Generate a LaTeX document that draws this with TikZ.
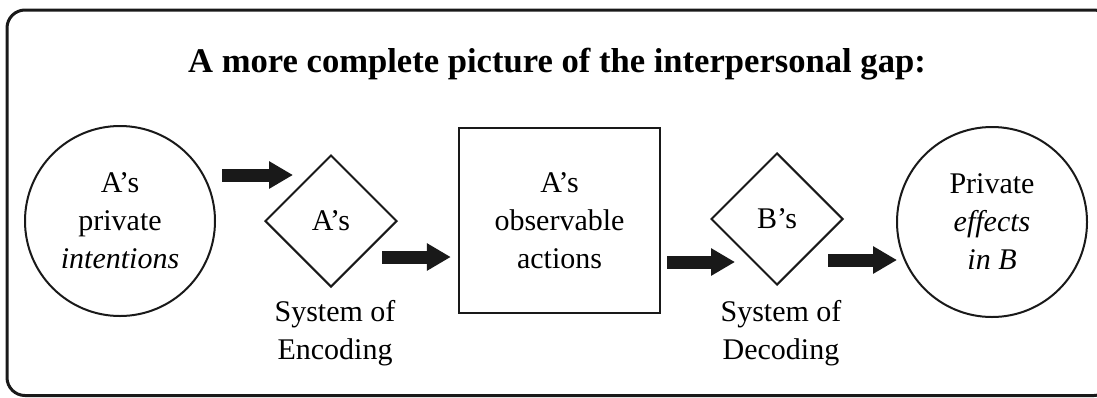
\documentclass[tikz,border=0pt]{standalone}
\usepackage{fontspec}
\setmainfont{Liberation Serif}
\usetikzlibrary{shapes.geometric,arrows.meta,calc}
\begin{document}
\begin{tikzpicture}[x=0.5pt,y=-0.5pt,
  body/.style={font=\fontsize{15}{19}\selectfont, align=center, text=black},
  roundbox/.style={body, circle, draw=black!90, line width=1pt, minimum size=95pt, inner sep=0pt},
  decidebox/.style={body, diamond, draw=black!90, line width=1pt, minimum width=66pt, minimum height=66pt, inner sep=0pt, shape aspect=1},
  actbox/.style={body, rectangle, draw=black!90, line width=1.2pt, minimum width=100.5pt, minimum height=92.5pt, inner sep=0pt},
  blockarrow/.style={draw=black!90, line width=6.5pt, -{Triangle[length=12pt,width=13pt]}},
  lbl/.style={body}
]
\useasboundingbox (0,0) rectangle (1097,397);
\draw[draw=black!90, line width=1.5pt, rounded corners=9pt] (7,10) rectangle (1112,395.5);

\node[anchor=base, font=\fontsize{17.3}{20}\selectfont\bfseries] (title) at (557,72) {A more complete picture of the interpersonal gap:};

\node[roundbox] (c1) at (120,221) {A’s\\private\\\textit{intentions}};
\node[decidebox] (d1) at (331,221) {A’s};
\node[actbox] (act) at (559.5,220.5) {A’s\\observable\\actions};
\node[decidebox] (d2) at (777,219) {B’s};
\node[roundbox] (c2) at (992,222) {Private\\\textit{effects}\\\textit{in B}};

\node[lbl] (enc) at (335,333) {System of\\Encoding};
\node[lbl] (dec) at (781,333) {System of\\Decoding};

\draw[blockarrow] ($(c1.center)+(102,-46)$) -- ($(d1.center)+(-38,-46)$);
\draw[blockarrow] ($(d1.center)+(51,36)$) -- ($(act.west)+(-7,36.5)$);
\draw[blockarrow] ($(act.east)+(6,41.5)$) -- ($(d2.center)+(-42,43)$);
\draw[blockarrow] ($(d2.center)+(51,41)$) -- ($(c2.west)+(1,38)$);
\end{tikzpicture}
\end{document}
